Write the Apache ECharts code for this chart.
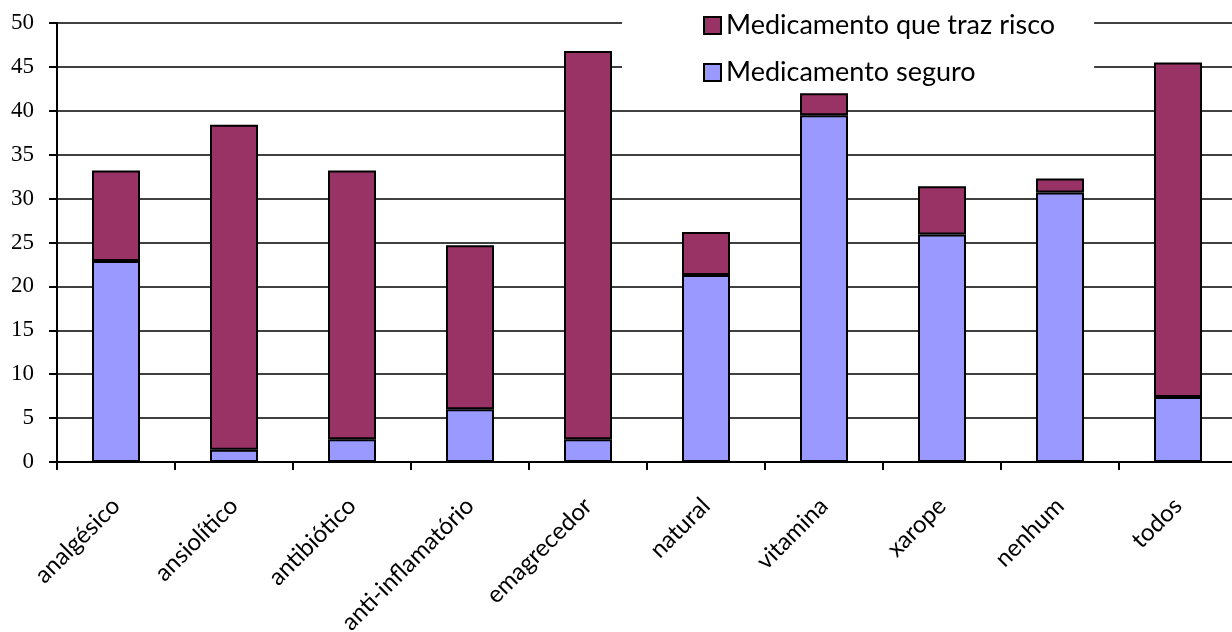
<!DOCTYPE html>
<html>
<head>
<meta charset="utf-8">
<script src="https://cdn.jsdelivr.net/npm/echarts@6/dist/echarts.min.js"></script>
<style>
  html, body { margin: 0; padding: 0; background: #fff; }
  #chart { width: 1232px; height: 632px; }
</style>
</head>
<body>
<div id="chart"></div>
<script>
// Categories of medication
const categories = ['analgésico', 'ansiolítico', 'antibiótico', 'anti-inflamatório', 'emagrecedor',
                    'natural', 'vitamina', 'xarope', 'nenhum', 'todos'];
// Stacked values (percent)
const safeValues = [22.9, 1.4, 2.6, 6.0, 2.6, 21.3, 39.5, 25.9, 30.7, 7.4];
const riskValues = [10.3, 37.0, 30.6, 18.7, 44.2, 4.9, 2.5, 5.5, 1.6, 38.1];
// Value axis settings
const yMin = 0, yMax = 50, yStep = 5;

const chart = echarts.init(document.getElementById('chart'));

const barBorder = { borderColor: '#000', borderWidth: 2 };

chart.setOption({
  animation: false,
  backgroundColor: '#fff',
  grid: { left: 57, right: -5, top: 23, bottom: 170, containLabel: false, outerBoundsMode: 'none' },
  legend: {
    data: ['Medicamento que traz risco', 'Medicamento seguro'],
    orient: 'vertical',
    left: 622,
    top: 0,
    padding: [12, 39, 4, 81],
    backgroundColor: '#fff',
    itemWidth: 17,
    itemHeight: 17,
    itemGap: 20,
    icon: 'rect',
    textStyle: { fontFamily: 'Lato', fontSize: 27, color: '#000', lineHeight: 27, padding: [0, 0, 0, 0] }
  },
  xAxis: {
    type: 'category',
    data: categories,
    boundaryGap: true,
    axisLine: { lineStyle: { color: '#000', width: 2 } },
    axisTick: { show: true, alignWithLabel: false, length: 8, lineStyle: { color: '#000', width: 2 } },
    axisLabel: {
      rotate: 45,
      margin: 40,
      interval: 0,
      fontFamily: 'Lato',
      fontSize: 24,
      color: '#000'
    },
    splitLine: { show: false }
  },
  yAxis: {
    type: 'value',
    min: yMin,
    max: yMax,
    interval: yStep,
    axisLine: { show: true, lineStyle: { color: '#000', width: 2 } },
    axisTick: { show: true, length: 8, lineStyle: { color: '#000', width: 2 } },
    axisLabel: { margin: 23, fontFamily: 'Liberation Serif', fontSize: 23, color: '#000' },
    splitLine: { show: true, lineStyle: { color: '#000', width: 1.5 } }
  },
  series: [
    {
      name: 'Medicamento seguro',
      type: 'bar',
      stack: 'total',
      barWidth: 48,
      data: safeValues,
      itemStyle: Object.assign({ color: '#9999FF' }, barBorder)
    },
    {
      name: 'Medicamento que traz risco',
      type: 'bar',
      stack: 'total',
      barWidth: 48,
      data: riskValues,
      itemStyle: Object.assign({ color: '#993366' }, barBorder)
    }
  ]
});
</script>
</body>
</html>
